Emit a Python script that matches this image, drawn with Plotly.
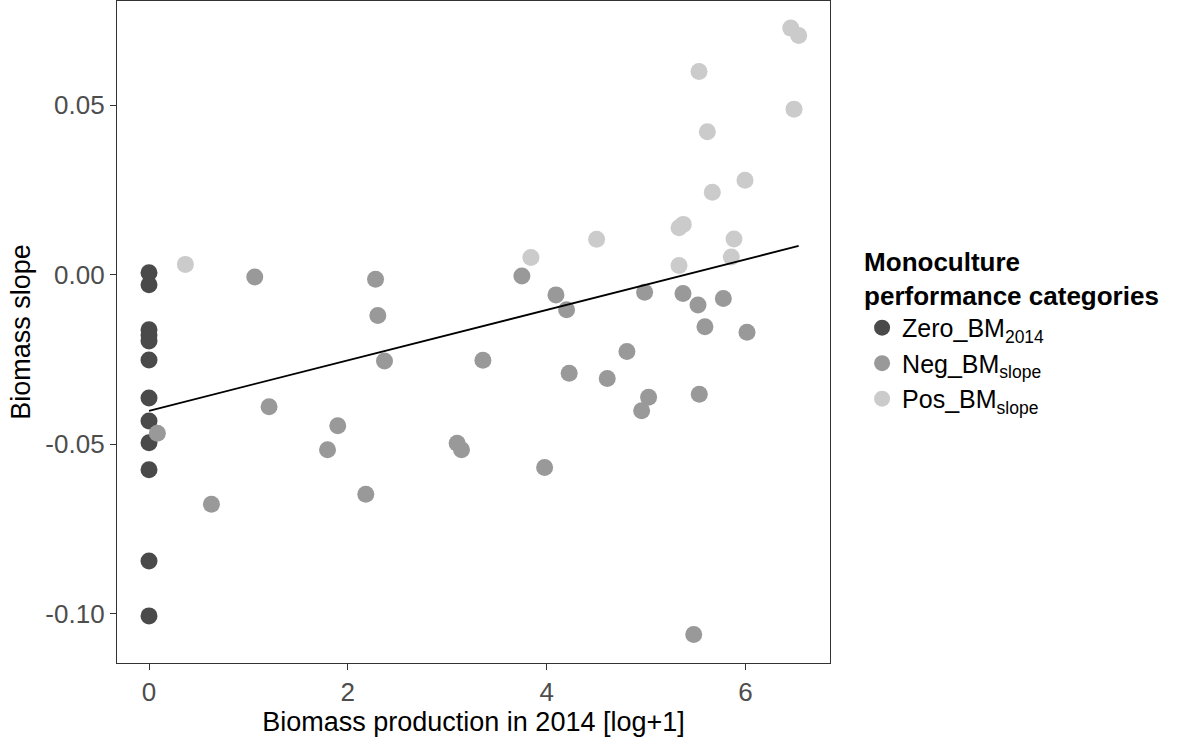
import plotly.graph_objects as go

# ---- data ----
zero_x = [0.0] * 12
zero_y = [0.0005, -0.0030, -0.0163, -0.0178, -0.0196, -0.0252, -0.0364,
          -0.0432, -0.0496, -0.0576, -0.0845, -0.1007]

neg_x = [1.064, 2.279, 2.302, 3.751, 4.094, 4.201, 4.986, 5.372, 5.523, 5.778,
         5.593, 6.016, 0.084, 1.208, 0.628, 2.369, 3.359, 1.899, 1.796, 2.181,
         3.100, 3.144, 4.808, 4.227, 4.610, 5.026, 4.956, 5.536, 3.980, 5.480]
neg_y = [-0.0007, -0.0014, -0.0121, -0.0004, -0.0060, -0.0104, -0.0052, -0.0056,
         -0.0090, -0.0071, -0.0154, -0.0170, -0.0468, -0.0390, -0.0678, -0.0255,
         -0.0253, -0.0446, -0.0517, -0.0648, -0.0498, -0.0517, -0.0227, -0.0291,
         -0.0307, -0.0362, -0.0402, -0.0353, -0.0569, -0.1062]

pos_x = [0.366, 6.456, 6.536, 5.533, 6.489, 5.617, 5.667, 5.996, 5.332, 5.375,
         5.885, 4.503, 3.842, 5.858, 5.332]
pos_y = [0.0030, 0.0727, 0.0705, 0.0599, 0.0488, 0.0421, 0.0243, 0.0278, 0.0138,
         0.0148, 0.0105, 0.0104, 0.0050, 0.0052, 0.0027]

fit_x = [0.0, 6.536]
fit_intercept = -0.0402
fit_slope = 0.00744

x_ticks = [0, 2, 4, 6]
y_ticks = [-0.10, -0.05, 0.00, 0.05]
y_tick_text = ["-0.10", "-0.05", "0.00", "0.05"]

font_family = "Liberation Sans, Arial, sans-serif"

fig = go.Figure()

series = [
    ("Zero_BM<sub>2014</sub>", zero_x, zero_y, "#4a4a4a"),
    ("Neg_BM<sub>slope</sub>", neg_x, neg_y, "#999999"),
    ("Pos_BM<sub>slope</sub>", pos_x, pos_y, "#cbcbcb"),
]
for i, (name, xs, ys, col) in enumerate(series):
    fig.add_trace(go.Scatter(
        x=xs, y=ys, mode="markers", name=name, legendgroup=f"g{i}",
        marker=dict(size=17, color=col, line=dict(width=0)),
    ))

fit_y = [fit_intercept + fit_slope * v for v in fit_x]
fig.add_trace(go.Scatter(x=fit_x, y=fit_y, mode="lines",
                         line=dict(color="black", width=1.8),
                         showlegend=False, hoverinfo="skip"))

axis_common = dict(
    showgrid=False, zeroline=False, showline=True, mirror=True,
    linecolor="#333333", linewidth=1.4, ticks="outside", ticklen=6,
    tickwidth=1.2, tickcolor="#333333",
    tickfont=dict(family=font_family, size=26, color="#4d4d4d"),
)

fig.update_layout(
    width=1186, height=737,
    margin=dict(l=117, r=356, t=1, b=74),
    paper_bgcolor="white", plot_bgcolor="white",
    font=dict(family=font_family),
    xaxis=dict(range=[-0.322, 6.851], tickvals=x_ticks,
               title=dict(text="Biomass production in 2014 [log+1]",
                          font=dict(family=font_family, size=27, color="black"),
                          standoff=2),
               **axis_common),
    yaxis=dict(range=[-0.1146, 0.0807], tickvals=y_ticks, ticktext=y_tick_text,
               title=dict(text="Biomass slope",
                          font=dict(family=font_family, size=27, color="black"),
                          standoff=6),
               **axis_common),
    legend=dict(
        title=dict(text="<b>Monoculture<br>performance categories</b>",
                   font=dict(family=font_family, size=26, color="black")),
        font=dict(family=font_family, size=25, color="black"),
        x=1.045, xanchor="left", y=0.643, yanchor="top",
        tracegroupgap=0, itemsizing="trace", bgcolor="rgba(0,0,0,0)",
    ),
)

fig.write_html("out.html")
